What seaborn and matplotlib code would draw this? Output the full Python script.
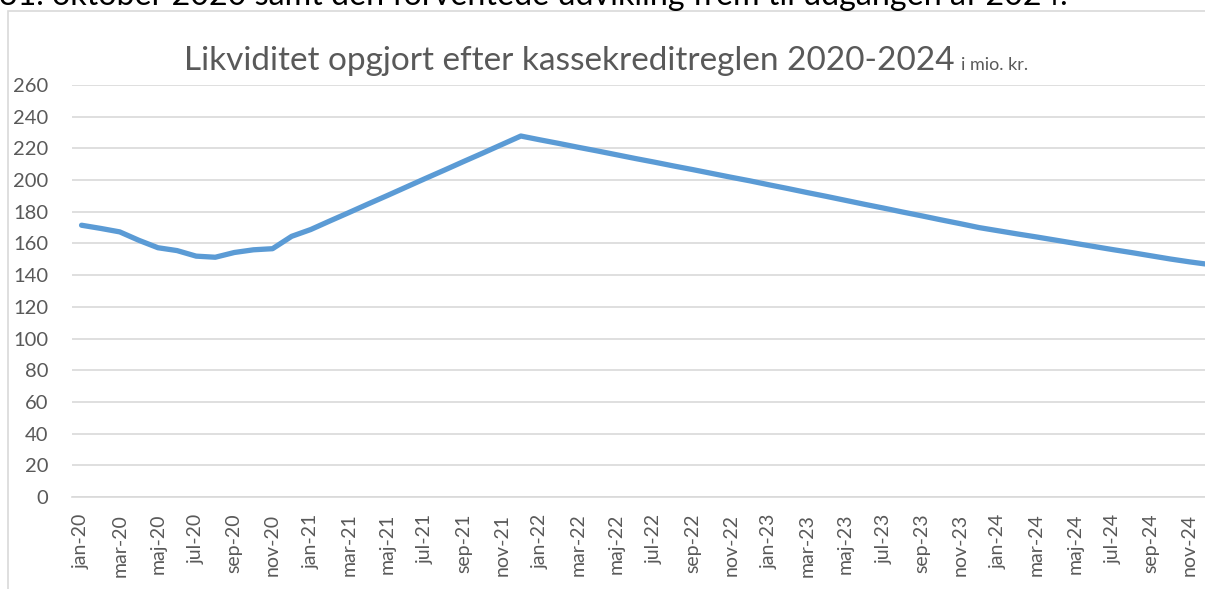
import numpy as np
import pandas as pd
import matplotlib
matplotlib.use("Agg")
import matplotlib.pyplot as plt
import seaborn as sns
from matplotlib.patches import Rectangle

# Data (mio. kr., monthly)
month_names = ["jan", "feb", "mar", "apr", "maj", "jun",
               "jul", "aug", "sep", "okt", "nov", "dec"]
years = ["20", "21", "22", "23", "24"]
values_2020 = [171.5, 169.5, 167.3, 162.0, 157.3, 155.5,
               152.0, 151.3, 154.3, 156.0, 156.7, 164.5]
values_2021 = [168.8, 174.2, 179.5, 184.9, 190.2, 195.6,
               201.0, 206.3, 211.7, 217.0, 222.4, 227.8]
values_2022 = [225.4, 223.1, 220.7, 218.4, 216.0, 213.6,
               211.3, 208.9, 206.6, 204.2, 201.8, 199.5]
values_2023 = [197.0, 194.6, 192.1, 189.7, 187.2, 184.7,
               182.3, 179.8, 177.4, 174.9, 172.5, 170.0]
values_2024 = [168.0, 166.0, 164.1, 162.1, 160.1, 158.1,
               156.1, 154.2, 152.2, 150.2, 148.4, 146.8]

labels = [f"{m}-{y}" for y in years for m in month_names]
values = values_2020 + values_2021 + values_2022 + values_2023 + values_2024
df = pd.DataFrame({"pos": np.arange(len(labels)), "label": labels, "value": values})

sns.set_style("white")
plt.rcParams["font.family"] = ["Lato", "DejaVu Sans"]

W, H = 1205, 589
fig = plt.figure(figsize=(W / 100, H / 100), dpi=100)

# chart frame (cropped on right and bottom like the screenshot)
fig.patches.append(Rectangle((8 / W, -0.1), 1.2, 1 - 10.7 / H + 0.1,
                             transform=fig.transFigure, fill=False,
                             edgecolor="#d9d9d9", linewidth=1.2))

# leftover caption line at the very top, cut off as in the screenshot
fig.text(-1 / W, 1 - 5 / H,
         "31. oktober 2020 samt den forventede udvikling frem til udgangen af 2024.",
         fontsize=23.2, color="black", ha="left", va="baseline")

# axes: plot area runs a bit past the right edge
left, right = 72, 1218
bottom, top = 497, 85
ax = fig.add_axes([left / W, 1 - bottom / H, (right - left) / W, (bottom - top) / H])

sns.lineplot(data=df, x="pos", y="value", ax=ax, color="#5B9BD5",
             linewidth=3.8, solid_capstyle="round", solid_joinstyle="round")

ax.set_xlim(-0.5, len(labels) - 0.5)
ax.set_ylim(0, 260)
ax.set_yticks(np.arange(0, 261, 20))
ax.yaxis.grid(True, color="#d9d9d9", linewidth=1.2)
ax.set_axisbelow(True)
ax.set_xlabel("")
ax.set_ylabel("")

ax.set_xticks(df["pos"][::2])
ax.set_xticklabels(df["label"][::2], rotation=90)
ax.set_xticks(np.arange(-0.5, len(labels), 2), minor=True)
ax.tick_params(axis="x", which="major", length=0, pad=12,
               labelsize=14, labelcolor="#595959")
ax.tick_params(axis="x", which="minor", length=5, width=1.2,
               color="#d9d9d9", direction="out")
ax.tick_params(axis="y", length=0, pad=17, labelsize=14.5, labelcolor="#595959")

for side in ["top", "right", "left"]:
    ax.spines[side].set_visible(False)
ax.spines["bottom"].set_color("#d9d9d9")
ax.spines["bottom"].set_linewidth(1.2)

# title with small unit suffix
fig.text(955 / W, 1 - 70 / H, "Likviditet opgjort efter kassekreditreglen 2020-2024",
         fontsize=24, color="#595959", ha="right", va="baseline")
fig.text(961 / W, 1 - 70 / H, "i mio. kr.",
         fontsize=13, color="#595959", ha="left", va="baseline")

fig.savefig("out.png", dpi=100)
